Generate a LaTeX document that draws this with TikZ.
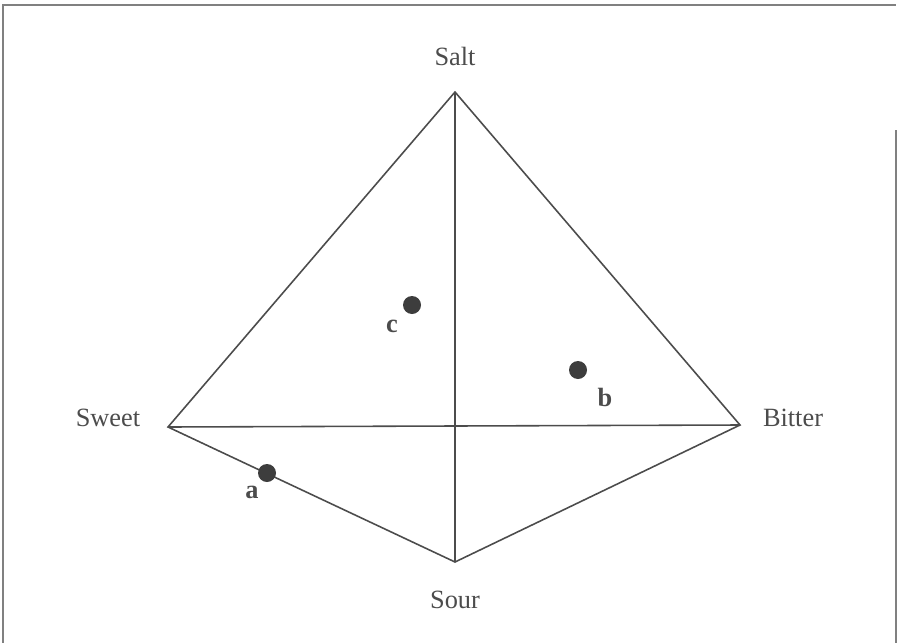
\documentclass[tikz,border=0pt]{standalone}
\usepackage{fontspec}
\setmainfont{Liberation Serif}
\definecolor{ink}{gray}{0.3}
\begin{document}
\begin{tikzpicture}[x=0.02cm, y=-0.02cm, every node/.style={text=ink, font=\fontsize{15}{17}\selectfont}]
\useasboundingbox (0,0) rectangle (898,642);

% frame of the scan
\draw [gray, line width=1.2pt] (3,648) -- (3,5) -- (896,5);
\draw [gray, line width=1pt] (896,130) -- (896,648);

% corners
\coordinate (salt) at (455,92);
\coordinate (sweet) at (168,427);
\coordinate (bitter) at (740,425);
\coordinate (sour) at (455,562);

\begin{scope}[ink, line width=0.9pt]
\draw (salt) -- (sweet) -- (sour) -- (bitter) -- cycle;
\draw (salt) -- (sour);
\draw (sweet) -- (bitter);
\end{scope}

\node at (455,56) (nsalt) {Salt};
\node at (108,418) (nsweet) {Sweet};
\node at (793,418) (nbitter) {Bitter};
\node at (455,600) (nsour) {Sour};

\fill [ink!80!black] (412,305) circle (9) node (c) {};
\fill [ink!80!black] (578,370) circle (9) node (b) {};
\fill [ink!80!black] (267,473) circle (9) node (a) {};

\node at (392,326) (lc) {\textbf{c}};
\node at (605,397) (lb) {\textbf{b}};
\node at (252,492) (la) {\textbf{a}};

\end{tikzpicture}
\end{document}
